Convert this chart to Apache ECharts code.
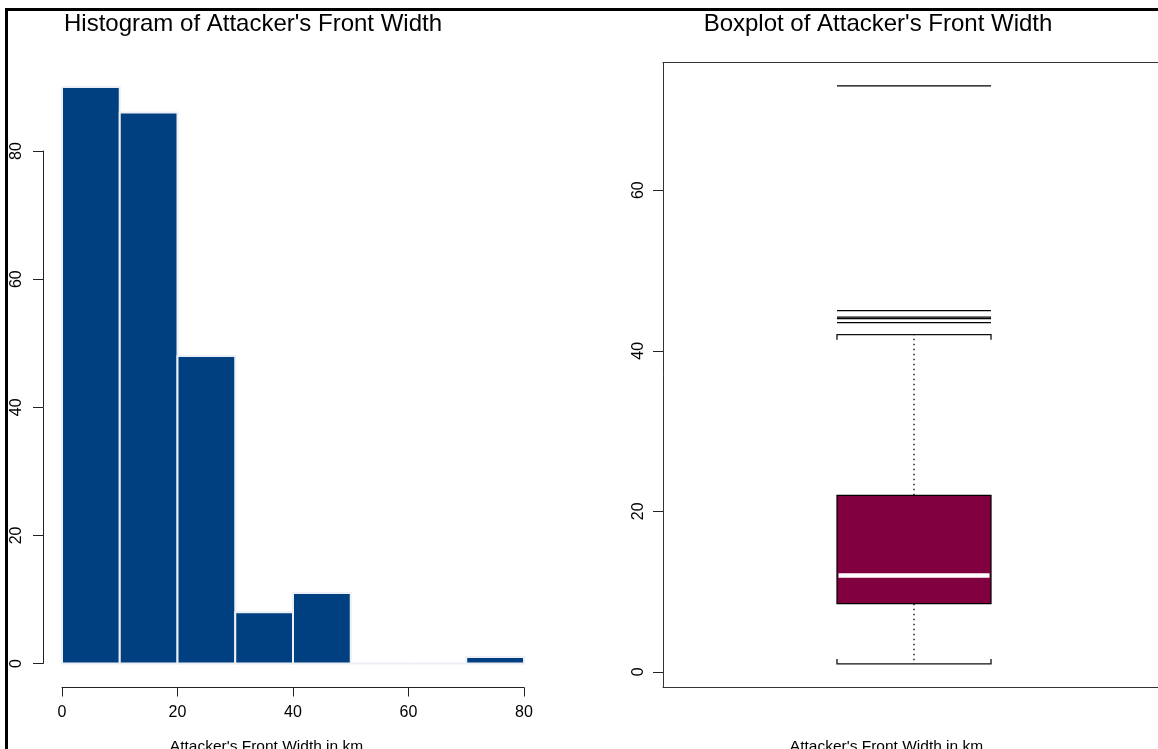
<!DOCTYPE html>
<html>
<head>
<meta charset="utf-8">
<script src="https://cdn.jsdelivr.net/npm/echarts@6/dist/echarts.min.js"></script>
<style>
  html, body { margin: 0; padding: 0; background: #fff; }
  #main { width: 1158px; height: 749px; }
</style>
</head>
<body>
<div id="main"></div>
<script>
// histogram bins (km) and counts
var binEdges = [0, 10, 20, 30, 40, 50, 60, 70, 80];
var binCounts = [90, 86, 48, 8, 11, 0, 0, 1];
var histTicks = [0, 20, 40, 60, 80];

// boxplot: lower whisker, Q1, median, Q3, upper whisker
var boxStats = [1, 8.5, 12, 22, 42];
var outliers = [43.5, 44, 44.2, 45, 73];
var boxTicks = [0, 20, 40, 60];

var font = '"Liberation Sans", Arial, sans-serif';
var halfBox = 0.1534;

var histData = [];
for (var i = 0; i < binCounts.length; i++) {
	histData.push([binEdges[i], binEdges[i + 1], binCounts[i]]);
}

var myChart = echarts.init(document.getElementById('main'));

function renderBar(params, api) {
	var p0 = api.coord([api.value(0), api.value(2)]);
	var p1 = api.coord([api.value(1), 0]);
	return {
		type: 'rect',
		shape: { x: p0[0], y: p0[1], width: p1[0] - p0[0], height: p1[1] - p0[1] },
		style: { fill: '#004080', stroke: '#eceff5', lineWidth: 2 }
	};
}

function renderBox(params, api) {
	var x = api.value(0);
	var cx = api.coord([x, 0])[0];
	var left = api.coord([x - halfBox, 0])[0];
	var right = api.coord([x + halfBox, 0])[0];
	var lo = api.coord([x, api.value(1)])[1];
	var q1 = api.coord([x, api.value(2)])[1];
	var med = api.coord([x, api.value(3)])[1];
	var q3 = api.coord([x, api.value(4)])[1];
	var hi = api.coord([x, api.value(5)])[1];
	var dotted = { stroke: '#222', lineWidth: 1.5, lineDash: [1.5, 3.5] };
	var solid = { stroke: '#111', lineWidth: 1.3, fill: null };
	return {
		type: 'group',
		children: [
			{ type: 'line', shape: { x1: cx, y1: q3, x2: cx, y2: hi }, style: dotted },
			{ type: 'line', shape: { x1: cx, y1: q1, x2: cx, y2: lo }, style: dotted },
			{ type: 'polyline', shape: { points: [[left, hi + 5], [left, hi], [right, hi], [right, hi + 5]] }, style: solid },
			{ type: 'polyline', shape: { points: [[left, lo - 5], [left, lo], [right, lo], [right, lo - 5]] }, style: solid },
			{ type: 'rect', shape: { x: left, y: q3, width: right - left, height: q1 - q3 },
				style: { fill: '#800040', stroke: '#000', lineWidth: 1.2 } },
			{ type: 'line', shape: { x1: left + 1.5, y1: med, x2: right - 1.5, y2: med },
				style: { stroke: '#fff', lineWidth: 4.5 } }
		]
	};
}

function renderOutlier(params, api) {
	var x = api.value(0);
	var y = api.coord([x, api.value(1)])[1];
	return {
		type: 'line',
		shape: { x1: api.coord([x - halfBox, 0])[0], y1: y, x2: api.coord([x + halfBox, 0])[0], y2: y },
		style: { stroke: '#000', lineWidth: 1.2 }
	};
}

var axisText = { color: '#000', fontSize: 16, fontFamily: font };
var axisLineStyle = { color: '#222', width: 1 };

option = {
	animation: false,
	backgroundColor: '#fff',
	grid: [
		{ left: 62, top: 151, width: 462, height: 512.5 },
		{ left: 663, top: 62.7, width: 495, height: 624.3 }
	],
	xAxis: [
		{
			gridIndex: 0, type: 'value', min: 0, max: 80, interval: 20, offset: 24,
			axisLine: { show: true, onZero: false, lineStyle: axisLineStyle },
			axisTick: { show: true, length: 9, lineStyle: { color: '#222' } },
			axisLabel: Object.assign({ margin: 17, showMinLabel: true, showMaxLabel: true }, axisText),
			splitLine: { show: false }
		},
		// box frame: bottom and top edges (right edge is outside the picture)
		{
			gridIndex: 1, type: 'value', min: 0.5, max: 0.5 + 495 / 502, position: 'bottom',
			axisLine: { show: true, onZero: false, lineStyle: { color: '#333', width: 1 } },
			axisTick: { show: false }, axisLabel: { show: false }, splitLine: { show: false }
		},
		{
			gridIndex: 1, type: 'value', min: 0.5, max: 0.5 + 495 / 502, position: 'top',
			axisLine: { show: true, onZero: false, lineStyle: { color: '#333', width: 1 } },
			axisTick: { show: false }, axisLabel: { show: false }, splitLine: { show: false }
		}
	],
	yAxis: [
		{
			gridIndex: 0, type: 'value', min: 0, max: 80, interval: 20, offset: 19,
			axisLine: { show: true, onZero: false, lineStyle: axisLineStyle },
			axisTick: { show: true, length: 10, lineStyle: { color: '#222' } },
			axisLabel: Object.assign({ rotate: 90, margin: 18, showMinLabel: true, showMaxLabel: true }, axisText),
			splitLine: { show: false }
		},
		{
			gridIndex: 1, type: 'value', min: -1.88, max: 75.88,
			axisLine: { show: true, onZero: false, lineStyle: { color: '#333', width: 1 } },
			axisTick: { show: true, length: 10, customValues: boxTicks, lineStyle: { color: '#222' } },
			axisLabel: Object.assign({ rotate: 90, margin: 16, customValues: boxTicks }, axisText),
			splitLine: { show: false }
		}
	],
	series: [
		{
			type: 'custom', xAxisIndex: 0, yAxisIndex: 0, clip: false,
			renderItem: renderBar, encode: { x: [0, 1], y: 2 }, data: histData
		},
		{
			type: 'custom', xAxisIndex: 1, yAxisIndex: 1, clip: false,
			renderItem: renderBox, encode: { x: 0, y: [1, 2, 3, 4, 5] },
			data: [[1].concat(boxStats)]
		},
		{
			type: 'custom', xAxisIndex: 1, yAxisIndex: 1, clip: false,
			renderItem: renderOutlier, encode: { x: 0, y: 1 },
			data: outliers.map(function (v) { return [1, v]; })
		}
	],
	graphic: [
		// frame lines of the page
		{ type: 'line', shape: { x1: 5, y1: 9.5, x2: 1158, y2: 9.5 }, style: { stroke: '#000', lineWidth: 3 } },
		{ type: 'line', shape: { x1: 6.5, y1: 8, x2: 6.5, y2: 749 }, style: { stroke: '#000', lineWidth: 3 } },
		{ type: 'text', x: 64, y: 24, style: { text: "Histogram of Attacker's Front Width", font: '24px ' + font, fill: '#000', align: 'left', verticalAlign: 'middle' } },
		{ type: 'text', x: 878, y: 24, style: { text: "Boxplot of Attacker's Front Width", font: '24px ' + font, fill: '#000', align: 'center', verticalAlign: 'middle' } },
		{ type: 'text', x: 266.5, y: 747, style: { text: "Attacker's Front Width in km", font: '15.5px ' + font, fill: '#000', align: 'center', verticalAlign: 'middle' } },
		{ type: 'text', x: 886.5, y: 747, style: { text: "Attacker's Front Width in km", font: '15.5px ' + font, fill: '#000', align: 'center', verticalAlign: 'middle' } }
	]
};
myChart.setOption(option);
</script>
</body>
</html>
